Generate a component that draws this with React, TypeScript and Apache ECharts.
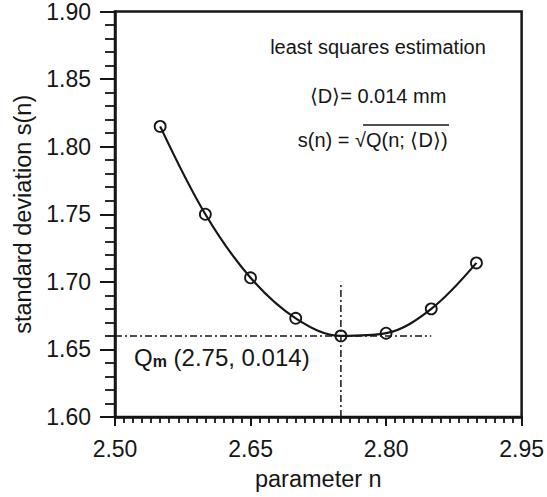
import React, { useEffect, useRef } from "react";
import * as echarts from "echarts";

// data
const nValues = [2.55, 2.6, 2.65, 2.7, 2.75, 2.8, 2.85, 2.9];
const sValues = [1.815, 1.75, 1.703, 1.673, 1.66, 1.662, 1.68, 1.714];

const xMin = 2.5;
const xMax = 2.95;
const xInterval = 0.15;
const yMin = 1.6;
const yMax = 1.9;
const yInterval = 0.05;

// minimum marker Qm and its guide lines
const qmN = 2.75;
const qmS = 1.66;
const hGuideEndN = 2.85;
const vGuideTopS = 1.7;

const titleText = "least squares estimation";
const dText = "\u27E8D\u27E9= 0.014 mm";
const sLeftText = "s(n) = \u221A";
const sRightText = "Q(n; \u27E8D\u27E9)";
const qmLabel = "(2.75, 0.014)";

const FONT = "'Liberation Sans', Arial, Helvetica, sans-serif";
const INK = "#161616";

export default function App() {
  const ref = useRef<HTMLDivElement>(null);

  useEffect(() => {
    if (!ref.current) return;
    const chart = echarts.init(ref.current, undefined, { renderer: "svg" });

    const points = nValues.map((n, i) => [n, sValues[i]]);
    const dashDot = [7, 3, 2, 3];

    chart.setOption({
      animation: false,
      backgroundColor: "#ffffff",
      textStyle: { fontFamily: FONT },
      grid: {
        left: 115,
        right: 22,
        top: 11,
        bottom: 80,
        show: true,
        borderColor: INK,
        borderWidth: 2.5,
        backgroundColor: "transparent",
      },
      xAxis: {
        type: "value",
        min: xMin,
        max: xMax,
        interval: xInterval,
        name: "parameter n",
        nameLocation: "middle",
        nameGap: 50,
        nameTextStyle: { fontSize: 23.5, color: INK, fontFamily: FONT },
        axisLine: { show: true, onZero: false, lineStyle: { color: INK, width: 2.5 } },
        axisTick: { show: true, inside: false, length: 9, lineStyle: { color: INK, width: 2 } },
        minorTick: { show: true, splitNumber: 15, length: 6, lineStyle: { color: INK, width: 1.8 } },
        splitLine: { show: false },
        minorSplitLine: { show: false },
        axisLabel: {
          fontSize: 23,
          color: INK,
          margin: 20,
          fontFamily: FONT,
          formatter: (v: number) => v.toFixed(2),
        },
      },
      yAxis: {
        type: "value",
        min: yMin,
        max: yMax,
        interval: yInterval,
        name: "standard deviation s(n)",
        nameLocation: "middle",
        nameGap: 77,
        nameTextStyle: { fontSize: 23.5, color: INK, fontFamily: FONT },
        axisLine: { show: true, onZero: false, lineStyle: { color: INK, width: 2.5 } },
        axisTick: { show: true, inside: false, length: 15, lineStyle: { color: INK, width: 2 } },
        minorTick: { show: true, splitNumber: 5, length: 10, lineStyle: { color: INK, width: 1.8 } },
        splitLine: { show: false },
        minorSplitLine: { show: false },
        axisLabel: {
          fontSize: 23,
          color: INK,
          margin: 24,
          fontFamily: FONT,
          formatter: (v: number) => v.toFixed(2),
        },
      },
      series: [
        {
          type: "line",
          data: [
            [xMin, qmS],
            [hGuideEndN, qmS],
          ],
          symbol: "none",
          silent: true,
          lineStyle: { color: INK, width: 1.5, type: dashDot },
          z: 1,
        },
        {
          type: "line",
          data: [
            [qmN, yMin],
            [qmN, vGuideTopS],
          ],
          symbol: "none",
          silent: true,
          lineStyle: { color: INK, width: 1.5, type: dashDot },
          z: 1,
        },
        {
          type: "line",
          data: points,
          smooth: 0.35,
          symbol: "circle",
          symbolSize: 11,
          showSymbol: true,
          lineStyle: { color: INK, width: 2.2 },
          itemStyle: { color: "rgba(255,255,255,0)", borderColor: INK, borderWidth: 1.8 },
          z: 3,
        },
      ],
      graphic: [
        {
          type: "text",
          x: 378,
          y: 47,
          style: {
            text: titleText,
            fontSize: 20,
            fontFamily: FONT,
            fill: INK,
            align: "center",
            verticalAlign: "middle",
          },
        },
        {
          type: "text",
          x: 378,
          y: 96,
          style: {
            text: dText,
            fontSize: 20,
            fontFamily: FONT,
            fill: INK,
            align: "center",
            verticalAlign: "middle",
          },
        },
        {
          type: "text",
          x: 366,
          y: 140,
          style: {
            text: sLeftText,
            fontSize: 20,
            fontFamily: FONT,
            fill: INK,
            align: "right",
            verticalAlign: "middle",
          },
        },
        {
          type: "text",
          x: 366,
          y: 140,
          style: {
            text: sRightText,
            fontSize: 20,
            fontFamily: FONT,
            fill: INK,
            align: "left",
            verticalAlign: "middle",
          },
        },
        {
          type: "line",
          shape: { x1: 363, y1: 125, x2: 449, y2: 125 },
          style: { stroke: INK, lineWidth: 1.5 },
        },
        {
          type: "text",
          x: 134,
          y: 356,
          style: {
            text: "{q|Q}{m|m}{t| " + qmLabel + "}",
            fontFamily: FONT,
            fill: INK,
            align: "left",
            verticalAlign: "middle",
            rich: {
              q: { fontSize: 24, fontFamily: FONT, fill: INK, lineHeight: 26, verticalAlign: "bottom" },
              m: {
                fontSize: 16,
                fontWeight: "bold",
                fontFamily: FONT,
                fill: INK,
                lineHeight: 6,
                verticalAlign: "bottom",
              },
              t: { fontSize: 24, fontFamily: FONT, fill: INK, lineHeight: 26, verticalAlign: "bottom" },
            },
          },
        },
      ],
    });

    return () => chart.dispose();
  }, []);

  return (
    <div
      ref={ref}
      style={{ position: "fixed", left: 0, top: 0, width: 547, height: 497, background: "#fff" }}
    />
  );
}
